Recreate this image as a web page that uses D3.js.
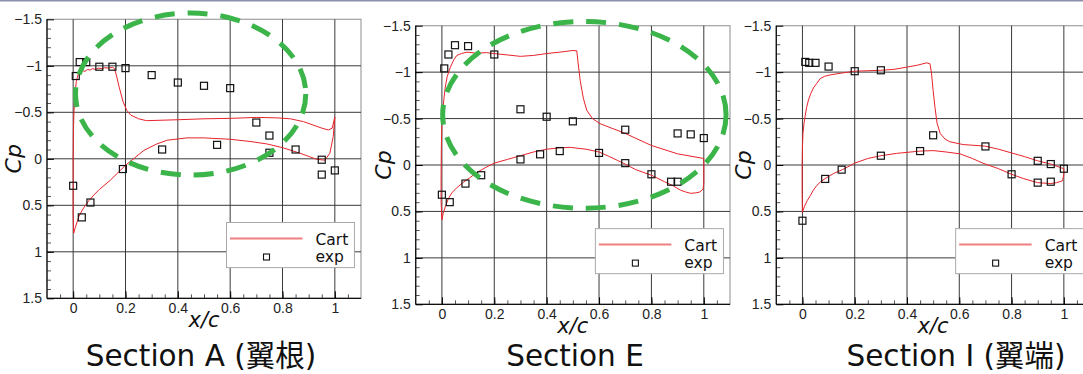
<!DOCTYPE html>
<html lang="en">
<head>
    <meta charset="utf-8">
    <script src="https://d3js.org/d3.v7.min.js"></script>
    <style>
        body { margin: 0; background: white; }
        svg { display: block; font-family: "DejaVu Sans", "Noto Sans CJK JP", sans-serif; }
        .tick text { font-size: 14px; fill: #222; }
    </style>
</head>
<body>
    <svg id="chart" width="1083" height="374"></svg>

    <script>
    // axis ticks
    const xTicks = [0, 0.2, 0.4, 0.6, 0.8, 1];
    const yTicks = [-1.5, -1, -0.5, 0, 0.5, 1, 1.5];

    // Section A (wing root)
    const cartUpperA = [[0.002,0.80],[0.0,0.6],[0.0,0.3],[0.0,0.0],[0.001,-0.3],[0.003,-0.5],[0.007,-0.7],[0.012,-0.83],[0.018,-0.9],[0.025,-0.93],[0.035,-0.95],[0.045,-0.94],[0.055,-0.96],[0.065,-0.955],[0.075,-0.97],[0.085,-0.96],[0.095,-0.975],[0.11,-0.97],[0.12,-0.98],[0.135,-0.975],[0.15,-0.985],[0.158,-0.97],[0.165,-0.9],[0.175,-0.78],[0.19,-0.62],[0.205,-0.52],[0.22,-0.47],[0.25,-0.43],[0.28,-0.41],[0.4,-0.42],[0.5,-0.43],[0.6,-0.435],[0.7,-0.445],[0.78,-0.44],[0.83,-0.43],[0.88,-0.4],[0.92,-0.36],[0.95,-0.33],[0.975,-0.31],[0.99,-0.33],[1.0,-0.45]];
    const cartLowerA = [[0.002,0.80],[0.008,0.74],[0.015,0.68],[0.022,0.62],[0.035,0.55],[0.047,0.5],[0.06,0.45],[0.079,0.39],[0.1,0.33],[0.142,0.23],[0.2,0.07],[0.27,-0.09],[0.32,-0.16],[0.36,-0.2],[0.435,-0.225],[0.5,-0.225],[0.6,-0.21],[0.68,-0.185],[0.74,-0.16],[0.8,-0.12],[0.867,-0.06],[0.93,0.005],[0.962,0.015],[0.981,-0.06],[0.994,-0.24],[1.0,-0.45]];
    const expA = [[0.0,0.29],[0.01,-0.89],[0.025,-1.04],[0.05,-1.04],[0.1,-0.99],[0.15,-0.99],[0.2,-0.975],[0.3,-0.9],[0.4,-0.82],[0.5,-0.785],[0.6,-0.76],[0.7,-0.39],[0.75,-0.25],[0.75,-0.065],[0.85,-0.1],[0.95,0.01],[0.95,0.17],[1.0,0.125],[0.033,0.63],[0.066,0.47],[0.19,0.11],[0.34,-0.1],[0.55,-0.15]];

    // Section E
    const cartUpperE = [[0.0,0.59],[-0.003,0.4],[-0.003,0.1],[-0.002,-0.2],[0.0,-0.45],[0.004,-0.6],[0.008,-0.72],[0.013,-0.84],[0.02,-0.95],[0.032,-1.05],[0.045,-1.13],[0.057,-1.18],[0.075,-1.2],[0.095,-1.215],[0.13,-1.205],[0.17,-1.21],[0.2,-1.2],[0.25,-1.185],[0.3,-1.17],[0.35,-1.18],[0.4,-1.2],[0.45,-1.215],[0.5,-1.233],[0.515,-1.23],[0.52,-1.1],[0.528,-0.91],[0.54,-0.72],[0.553,-0.59],[0.575,-0.5],[0.604,-0.445],[0.7,-0.34],[0.8,-0.21],[0.9,-0.12],[1.0,-0.07]];
    const cartLowerE = [[0.0,0.59],[0.005,0.52],[0.013,0.45],[0.025,0.36],[0.038,0.3],[0.055,0.25],[0.08,0.19],[0.105,0.14],[0.134,0.08],[0.165,0.03],[0.2,-0.02],[0.25,-0.06],[0.3,-0.1],[0.35,-0.14],[0.4,-0.17],[0.45,-0.185],[0.49,-0.19],[0.55,-0.17],[0.6,-0.14],[0.64,-0.09],[0.67,-0.05],[0.7,-0.01],[0.74,0.05],[0.8,0.11],[0.85,0.18],[0.88,0.22],[0.91,0.27],[0.93,0.29],[0.95,0.305],[0.97,0.3],[0.985,0.29],[0.997,0.26],[1.0,0.2],[1.0,-0.07]];
    const expE = [[0.0,0.32],[0.009,-1.04],[0.025,-1.19],[0.05,-1.29],[0.1,-1.28],[0.2,-1.19],[0.3,-0.6],[0.4,-0.52],[0.5,-0.47],[0.7,-0.38],[0.9,-0.34],[0.95,-0.33],[1.0,-0.29],[0.03,0.40],[0.09,0.2],[0.15,0.11],[0.3,-0.06],[0.375,-0.115],[0.45,-0.15],[0.6,-0.13],[0.7,-0.02],[0.8,0.1],[0.875,0.18],[0.9,0.18]];

    // Section I (wing tip)
    const cartUpperI = [[0.0,0.51],[-0.001,0.3],[-0.001,0.0],[0.0,-0.2],[0.002,-0.34],[0.006,-0.45],[0.01,-0.52],[0.016,-0.62],[0.023,-0.7],[0.032,-0.77],[0.042,-0.83],[0.055,-0.88],[0.068,-0.93],[0.085,-0.955],[0.106,-0.97],[0.15,-0.99],[0.2,-1.01],[0.25,-1.015],[0.3,-1.02],[0.35,-1.03],[0.4,-1.054],[0.44,-1.075],[0.475,-1.1],[0.488,-1.09],[0.494,-0.98],[0.5,-0.8],[0.507,-0.62],[0.515,-0.45],[0.527,-0.34],[0.545,-0.28],[0.564,-0.25],[0.615,-0.22],[0.697,-0.204],[0.75,-0.17],[0.8,-0.13],[0.85,-0.09],[0.9,-0.045],[0.95,-0.01],[1.0,0.04]];
    const cartLowerI = [[0.0,0.51],[0.007,0.45],[0.019,0.38],[0.03,0.33],[0.042,0.27],[0.055,0.22],[0.07,0.18],[0.09,0.14],[0.12,0.09],[0.153,0.05],[0.2,-0.02],[0.25,-0.07],[0.3,-0.1],[0.36,-0.125],[0.45,-0.15],[0.5,-0.155],[0.55,-0.14],[0.603,-0.12],[0.65,-0.07],[0.69,-0.02],[0.75,0.04],[0.8,0.1],[0.845,0.146],[0.9,0.19],[0.95,0.2],[0.972,0.19],[0.995,0.17],[1.0,0.1],[1.0,0.04]];
    const expI = [[0.0,0.60],[0.011,-1.11],[0.026,-1.1],[0.05,-1.1],[0.1,-1.06],[0.2,-1.01],[0.3,-1.02],[0.5,-0.32],[0.7,-0.2],[0.9,-0.045],[0.95,-0.01],[1.0,0.04],[0.8,0.1],[0.9,0.19],[0.95,0.18],[0.45,-0.15],[0.3,-0.1],[0.15,0.05],[0.087,0.15]];

    // highlight ellipses [cx, cy, rx, ry] in data units
    const ellipseA = [0.449, -0.696, 0.44, 0.871];
    const ellipseE = [0.544, -0.54, 0.541, 1.005];

    const titles = ["Section A (翼根)", "Section E", "Section I (翼端)"];

    const panels = [
        {left: 47, right: 361, top: 19.3, bottom: 298.3, upper: cartUpperA, lower: cartLowerA, exp: expA, ellipse: ellipseA, title: titles[0], titleX: 201, cpX: 21},
        {left: 415.7, right: 730, top: 25.7, bottom: 304.3, upper: cartUpperE, lower: cartLowerE, exp: expE, ellipse: ellipseE, title: titles[1], titleX: 575, cpX: 391},
        {left: 776.3, right: 1090, top: 25.7, bottom: 304.3, upper: cartUpperI, lower: cartLowerI, exp: expI, ellipse: null, title: titles[2], titleX: 956, cpX: 751}
    ];

    const svg = d3.select("#chart");

    // header rule
    svg.append("rect").attr("x", 0).attr("y", 0).attr("width", 1083).attr("height", 1.5).attr("fill", "#8a8fab");

    function fmt(d) { return d3.format("~g")(d); }

    function drawPanel(p) {
        const g = svg.append("g");
        const x = d3.scaleLinear().domain([-0.1, 1.1]).range([p.left, p.right]);
        const y = d3.scaleLinear().domain([-1.5, 1.5]).range([p.top, p.bottom]);

        // frame (top/right in grey)
        g.append("rect")
            .attr("x", p.left).attr("y", p.top)
            .attr("width", p.right - p.left).attr("height", p.bottom - p.top)
            .attr("fill", "white").attr("stroke", "#a0a0a0").attr("stroke-width", 1.2);

        // grid
        g.selectAll(".gx").data(xTicks).enter().append("line")
            .attr("x1", d => x(d)).attr("x2", d => x(d))
            .attr("y1", p.top).attr("y2", p.bottom)
            .attr("stroke", "#3a3a3a").attr("stroke-width", 1);
        g.selectAll(".gy").data(yTicks.slice(1, -1)).enter().append("line")
            .attr("x1", p.left).attr("x2", p.right)
            .attr("y1", d => y(d)).attr("y2", d => y(d))
            .attr("stroke", "#3a3a3a").attr("stroke-width", 1);

        // minor ticks
        g.append("g").attr("transform", `translate(0,${p.bottom})`)
            .call(d3.axisBottom(x).tickValues(d3.range(-0.05, 1.1, 0.05)).tickSize(-4).tickFormat(""))
            .call(a => a.selectAll("line").attr("stroke", "#555"))
            .call(a => a.select(".domain").remove());
        g.append("g").attr("transform", `translate(${p.left},0)`)
            .call(d3.axisLeft(y).tickValues(d3.range(-1.4, 1.5, 0.1)).tickSize(-4).tickFormat(""))
            .call(a => a.selectAll("line").attr("stroke", "#555"))
            .call(a => a.select(".domain").remove());

        // major axes
        g.append("g").attr("transform", `translate(0,${p.bottom})`)
            .call(d3.axisBottom(x).tickValues(xTicks).tickSize(-7).tickPadding(5).tickFormat(fmt))
            .call(a => a.select(".domain").attr("stroke", "#111").attr("stroke-width", 1.3).attr("d", `M${p.left},0H${p.right}`));
        g.append("g").attr("transform", `translate(${p.left},0)`)
            .call(d3.axisLeft(y).tickValues(yTicks).tickSize(-7).tickPadding(5).tickFormat(fmt))
            .call(a => a.select(".domain").attr("stroke", "#111").attr("stroke-width", 1.3).attr("d", `M0,${p.top}V${p.bottom}`));

        // Cart curves
        const line = d3.line().x(d => x(d[0])).y(d => y(d[1]));
        [p.upper, p.lower].forEach(s => {
            g.append("path").datum(s).attr("d", line)
                .attr("fill", "none").attr("stroke", "#e8232b").attr("stroke-width", 1);
        });

        // experiment squares
        g.selectAll(".exp").data(p.exp).enter().append("rect")
            .attr("x", d => x(d[0]) - 3.5).attr("y", d => y(d[1]) - 3.5)
            .attr("width", 7).attr("height", 7)
            .attr("fill", "none").attr("stroke", "#111").attr("stroke-width", 1.2);

        // legend
        const lx0 = x(0.586), lx1 = x(1.075), ly0 = y(0.685), ly1 = y(1.17);
        const lg = g.append("g");
        lg.append("rect").attr("x", lx0).attr("y", ly0).attr("width", lx1 - lx0).attr("height", ly1 - ly0)
            .attr("fill", "white").attr("stroke", "#aaa").attr("stroke-width", 1);
        lg.append("line").attr("x1", lx0 + 3.5).attr("x2", lx0 + 76).attr("y1", ly0 + 16).attr("y2", ly0 + 16)
            .attr("stroke", "#ef7f80").attr("stroke-width", 2);
        lg.append("rect").attr("x", lx0 + 37).attr("y", ly0 + 31.5).attr("width", 6).attr("height", 6)
            .attr("fill", "none").attr("stroke", "#111").attr("stroke-width", 1.1);
        lg.append("text").attr("x", lx0 + 89).attr("y", ly0 + 22).attr("font-size", 15.5).attr("fill", "#111").text("Cart");
        lg.append("text").attr("x", lx0 + 89).attr("y", ly0 + 39).attr("font-size", 15.5).attr("fill", "#111").text("exp");

        // green ellipse
        if (p.ellipse) {
            const e = p.ellipse;
            g.append("ellipse")
                .attr("cx", x(e[0])).attr("cy", y(e[1]))
                .attr("rx", x(e[2]) - x(0)).attr("ry", y(e[3]) - y(0))
                .attr("fill", "none").attr("stroke", "#3bb44a").attr("stroke-width", 5)
                .attr("stroke-dasharray", "20,13");
        }

        // axis titles
        svg.append("text").attr("x", (x(0.5))).attr("y", p.bottom + 29)
            .attr("text-anchor", "middle").attr("font-size", 21).attr("font-style", "italic").attr("fill", "#111")
            .text("x/c");
        svg.append("text").attr("transform", `translate(${p.cpX},${y(0)}) rotate(-90)`)
            .attr("text-anchor", "middle").attr("font-size", 22).attr("font-style", "italic").attr("fill", "#111")
            .text("Cp");

        svg.append("text").attr("x", p.titleX).attr("y", 366)
            .attr("text-anchor", "middle").attr("font-size", 29.5).attr("fill", "#111")
            .text(p.title);
    }

    panels.forEach(drawPanel);
    </script>
</body>
</html>
